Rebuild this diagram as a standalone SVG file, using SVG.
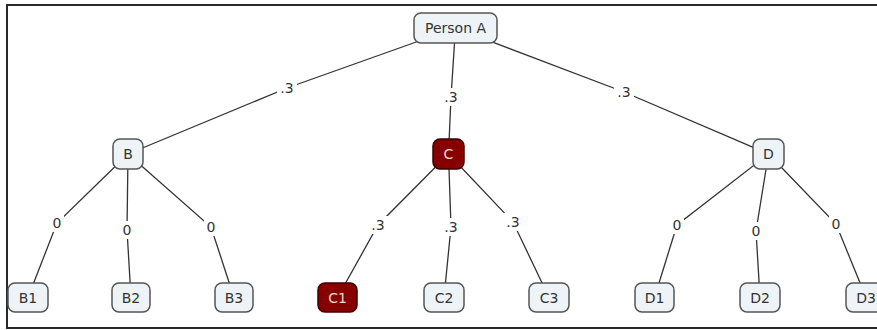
<svg xmlns="http://www.w3.org/2000/svg" width="877" height="330" viewBox="0 0 877 330">
<style>
text{font-family:"DejaVu Sans","Liberation Sans",sans-serif;font-size:14px;text-anchor:middle;fill:#333}
.n rect{fill:#eef3f7;stroke:#555;stroke-width:1.5}
.r rect{fill:#870000;stroke:#3a0000;stroke-width:1.5}
.r text{fill:#f2d6d6}
.e polyline{fill:none;stroke:#333;stroke-width:1.3}
.lb{fill:#fff}
</style>
<rect x="0" y="0" width="877" height="330" fill="#fff"/>
<path d="M877,5 H7 V328 H877" fill="none" stroke="#2a2a2a" stroke-width="2"/>
<g id="connectors" class="e">
<polyline points="455.5,28 287,88 128,154"/>
<polyline points="455.5,28 451,97 448.5,154"/>
<polyline points="455.5,28 624,92 768.5,154"/>
<polyline points="128,154 57,223 28,297.5"/>
<polyline points="128,154 127,230 131,297.5"/>
<polyline points="128,154 211,227 234,297.5"/>
<polyline points="448.5,154 378,225 337.5,297.5"/>
<polyline points="448.5,154 451,227 444,297.5"/>
<polyline points="448.5,154 513,222 549,297.5"/>
<polyline points="768.5,154 677,225 654.5,297.5"/>
<polyline points="768.5,154 756,231 760,297.5"/>
<polyline points="768.5,154 836,224 866,297.5"/>
<g id="labels">
<rect class="lb" x="277" y="79" width="20" height="18"/><text x="287" y="93">.3</text>
<rect class="lb" x="441" y="88" width="20" height="18"/><text x="451" y="102">.3</text>
<rect class="lb" x="614" y="83" width="20" height="18"/><text x="624" y="97">.3</text>
<rect class="lb" x="50" y="214" width="14" height="18"/><text x="57" y="228">0</text>
<rect class="lb" x="120" y="221" width="14" height="18"/><text x="127" y="235">0</text>
<rect class="lb" x="204" y="218" width="14" height="18"/><text x="211" y="232">0</text>
<rect class="lb" x="368" y="216" width="20" height="18"/><text x="378" y="230">.3</text>
<rect class="lb" x="441" y="218" width="20" height="18"/><text x="451" y="232">.3</text>
<rect class="lb" x="503" y="213" width="20" height="18"/><text x="513" y="227">.3</text>
<rect class="lb" x="670" y="216" width="14" height="18"/><text x="677" y="230">0</text>
<rect class="lb" x="749" y="222" width="14" height="18"/><text x="756" y="236">0</text>
<rect class="lb" x="829" y="215" width="14" height="18"/><text x="836" y="229">0</text>
</g>
</g>
<g id="personA" class="n"><rect x="414" y="13" width="83" height="30" rx="7"/><text x="455.5" y="33">Person A</text></g>
<g id="B" class="n"><rect x="113" y="139" width="30" height="30" rx="7"/><text x="128" y="159">B</text></g>
<g id="C" class="r"><rect x="433" y="139" width="31" height="30" rx="7"/><text x="448.5" y="159">C</text></g>
<g id="D" class="n"><rect x="753" y="139" width="31" height="30" rx="7"/><text x="768.5" y="159">D</text></g>
<g id="B1" class="n"><rect x="8" y="283" width="40" height="29" rx="7"/><text x="28" y="302.5">B1</text></g>
<g id="B2" class="n"><rect x="112" y="283" width="38" height="29" rx="7"/><text x="131" y="302.5">B2</text></g>
<g id="B3" class="n"><rect x="215" y="283" width="38" height="29" rx="7"/><text x="234" y="302.5">B3</text></g>
<g id="C1" class="r"><rect x="318" y="283" width="39" height="29" rx="7"/><text x="337.5" y="302.5">C1</text></g>
<g id="C2" class="n"><rect x="424" y="283" width="40" height="29" rx="7"/><text x="444" y="302.5">C2</text></g>
<g id="C3" class="n"><rect x="529" y="283" width="40" height="29" rx="7"/><text x="549" y="302.5">C3</text></g>
<g id="D1" class="n"><rect x="635" y="283" width="39" height="29" rx="7"/><text x="654.5" y="302.5">D1</text></g>
<g id="D2" class="n"><rect x="740" y="283" width="40" height="29" rx="7"/><text x="760" y="302.5">D2</text></g>
<g id="D3" class="n"><rect x="846" y="283" width="40" height="29" rx="7"/><text x="866" y="302.5">D3</text></g>
</svg>
